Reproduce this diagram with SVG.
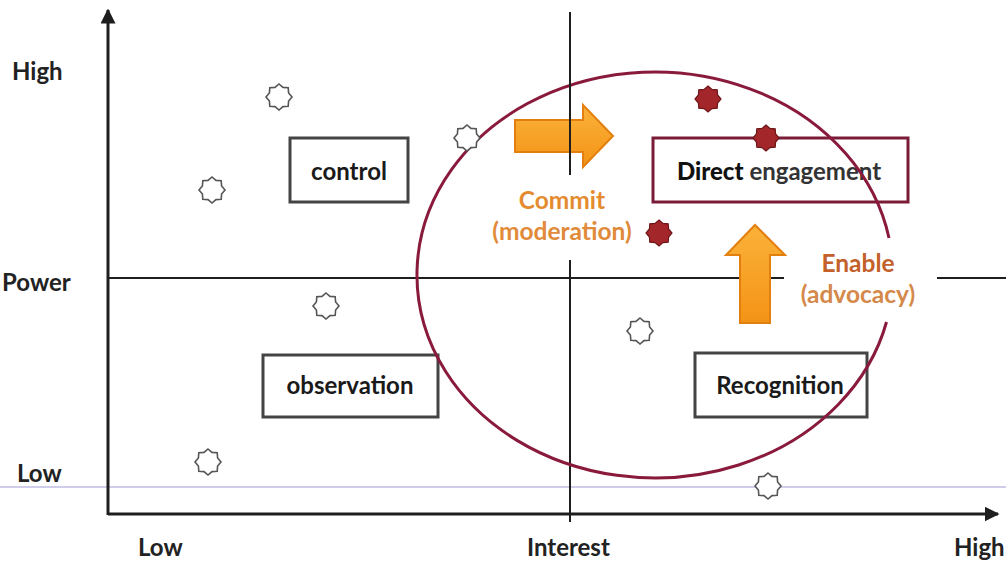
<svg xmlns="http://www.w3.org/2000/svg" width="1006" height="563" viewBox="0 0 1006 563">
  <style>
    .axis { stroke: #1e1e1e; stroke-width: 3; fill: none; }
    .grid { stroke: #1e1e1e; stroke-width: 2; fill: none; }
    .guide { stroke: #cfcdea; stroke-width: 2; fill: none; }
    .box { fill: #ffffff; stroke: #444444; stroke-width: 3; }
    .box-key { fill: #ffffff; stroke: #7a1c38; stroke-width: 3; }
    .lbl { font-family: Lato, "Open Sans", "Liberation Sans", sans-serif; font-weight: 700; font-size: 24px; fill: #1a1a1a; }
    .axlbl { font-family: Lato, "Open Sans", "Liberation Sans", sans-serif; font-weight: 700; font-size: 24px; fill: #222222; }
    .act { font-family: Lato, "Open Sans", "Liberation Sans", sans-serif; font-weight: 700; font-size: 24.5px; }
    .ring { fill: none; stroke: #8a1a3c; stroke-width: 3; }
    .star-open { fill: #ffffff; stroke: #555555; stroke-width: 1.6; }
    .star-key { fill: #a3262b; stroke: #6e1518; stroke-width: 1.2; }
    .block { fill: url(#orange); stroke: #e37f0e; stroke-width: 2; }
  </style>
  <defs>
    <linearGradient id="orange" x1="0" y1="0" x2="0" y2="1">
      <stop offset="0" stop-color="#fbb23a"/>
      <stop offset="1" stop-color="#f39316"/>
    </linearGradient>
    <path id="star" d="M0,-13 L4,-9.6 L9.2,-9.2 L9.6,-4 L13,0 L9.6,4 L9.2,9.2 L4,9.6 L0,13 L-4,9.6 L-9.2,9.2 L-9.6,4 L-13,0 L-9.6,-4 L-9.2,-9.2 L-4,-9.6 Z"/>
    <marker id="tip" viewBox="0 0 10 10" refX="9" refY="5" markerWidth="5" markerHeight="5" orient="auto">
      <path d="M0,0 L10,5 L0,10 Z" fill="#1e1e1e"/>
    </marker>
  </defs>

  <rect width="1006" height="563" fill="#ffffff"/>

  <!-- pale guide line near the low end of power -->
  <line class="guide" x1="0" y1="487" x2="1006" y2="487"/>

  <!-- axes and quadrant dividers -->
  <g id="axes">
    <line class="axis" x1="108" y1="515" x2="108" y2="10" marker-end="url(#tip)"/>
    <line class="axis" x1="108" y1="514" x2="998" y2="514" marker-end="url(#tip)"/>
    <line class="grid" x1="108" y1="278" x2="784" y2="278"/>
    <line class="grid" x1="937" y1="278" x2="1006" y2="278"/>
    <line class="grid" x1="570" y1="260" x2="570" y2="522"/>
  </g>

  <!-- axis labels -->
  <g id="axis-labels">
    <text class="axlbl" x="12" y="80">High</text>
    <text class="axlbl" x="2" y="291">Power</text>
    <text class="axlbl" x="17" y="482">Low</text>
    <text class="axlbl" x="138" y="556">Low</text>
    <text class="axlbl" x="527" y="556">Interest</text>
    <text class="axlbl" x="954" y="556">High</text>
  </g>

  <!-- quadrant nodes -->
  <g id="node-control">
    <rect class="box" x="290" y="138" width="118" height="64"/>
    <text class="lbl" x="349" y="180" text-anchor="middle">control</text>
  </g>
  <g id="node-observation">
    <rect class="box" x="263" y="355" width="175" height="62"/>
    <text class="lbl" x="350" y="394" text-anchor="middle">observation</text>
  </g>
  <g id="node-direct">
    <rect class="box-key" x="653" y="138" width="255" height="64"/>
    <text class="lbl" x="779" y="180" text-anchor="middle"><tspan font-weight="900" fill="#111111">Direct</tspan><tspan fill="#333333"> engagement</tspan></text>
  </g>
  <g id="node-recognition">
    <rect class="box" x="695" y="353" width="172" height="64"/>
    <text class="lbl" x="780" y="394" text-anchor="middle">Recognition</text>
  </g>

  <!-- engagement zone, drawn across the boxes -->
  <path id="zone" class="ring" d="M886.5,322 A238,203 0 1 1 889,238"/>

  <!-- stakeholders -->
  <g id="stakeholders">
    <use href="#star" class="star-open" x="279" y="97"/>
    <use href="#star" class="star-open" x="212" y="190"/>
    <use href="#star" class="star-open" x="467" y="138"/>
    <use href="#star" class="star-open" x="326" y="306"/>
    <use href="#star" class="star-open" x="208" y="462"/>
    <use href="#star" class="star-open" x="640" y="331"/>
    <use href="#star" class="star-open" x="768" y="486"/>
    <use href="#star" class="star-key" x="708" y="99"/>
    <use href="#star" class="star-key" x="766" y="138"/>
    <use href="#star" class="star-key" x="659" y="233"/>
  </g>

  <!-- movement arrows -->
  <g id="connectors">
    <path class="block" d="M515,120 H583 V105 L613,136 L583,167 V152 H515 Z"/>
    <path class="block" d="M740,323 V255 H726 L755,225 L785,255 H770 V323 Z"/>
  </g>

  <!-- upper part of the interest divider runs over the commit arrow -->
  <line class="grid" x1="570" y1="12" x2="570" y2="175"/>

  <!-- arrow labels -->
  <g id="label-commit">
    <text class="act" x="562" y="209" text-anchor="middle" fill="#e48b30">Commit</text>
    <text class="act" x="562" y="240" text-anchor="middle" fill="#e08a3a">(moderation)</text>
  </g>
  <g id="label-enable">
    <text class="act" x="858" y="272" text-anchor="middle" fill="#c4602a">Enable</text>
    <text class="act" x="858" y="303" text-anchor="middle" fill="#d4894a">(advocacy)</text>
  </g>
</svg>
